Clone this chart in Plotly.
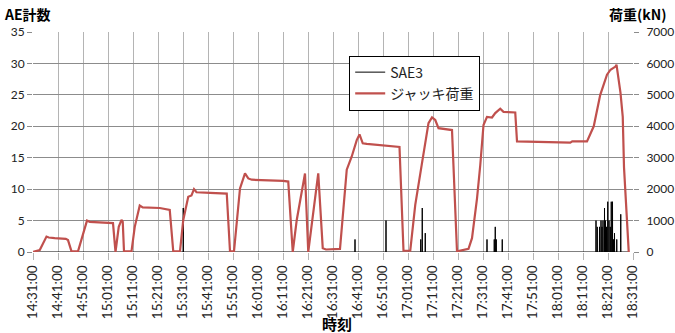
import plotly.graph_objects as go

# Time axis: minutes elapsed since 14:31:00, ticks every 10 minutes
tick_minutes = list(range(0, 241, 10))
tick_labels = [
    "14:31:00", "14:41:00", "14:51:00", "15:01:00", "15:11:00", "15:21:00",
    "15:31:00", "15:41:00", "15:51:00", "16:01:00", "16:11:00", "16:21:00",
    "16:31:00", "16:41:00", "16:51:00", "17:01:00", "17:11:00", "17:21:00",
    "17:31:00", "17:41:00", "17:51:00", "18:01:00", "18:11:00", "18:21:00",
    "18:31:00",
]

# Jack load (kN) against elapsed minutes
load_min = [
    0, 2.7, 5.4, 6.3, 8.7, 13.1, 14.0, 15.4, 18.0, 21.6, 22.7, 32.0, 33.0,
    34.3, 35.4, 35.9, 36.4, 39.4, 40.7, 42.7, 43.9, 50.7, 54.7, 56.1, 58.8,
    60.1, 62.1, 63.4, 64.4, 65.4, 70.8, 77.5, 78.8, 80.4, 82.8, 84.8, 86.1,
    87.5, 100.1, 102.1, 103.9, 105.5, 108.8, 110.1, 114.1, 115.9, 117.2,
    122.8, 125.5, 127.5, 129.5, 130.6, 131.9, 133.5, 146.6, 148.2, 150.9,
    152.9, 155.5, 158.2, 159.6, 160.9, 162.2, 167.6, 169.6, 174.2, 175.6,
    177.6, 178.9, 180.2, 181.6, 183.6, 184.9, 186.9, 188.2, 192.9, 193.6,
    214.3, 214.9, 215.7, 221.6, 224.3, 226.9, 229.6, 231.0, 233.0, 233.4,
    235.0, 235.9, 236.4, 237.2, 238.3,
]
load_kn = [
    0, 60, 490, 460, 440, 420, 380, 20, 20, 1000, 960, 920, 0,
    800, 1020, 960, 20, 20, 800, 1480, 1420, 1400, 1340, 20, 20,
    1020, 1760, 1800, 2000, 1900, 1880, 1860, 20, 20, 2020, 2500, 2340,
    2300, 2260, 2240, 0, 1020, 2500, 0, 2500, 120, 80,
    100, 2620, 3040, 3560, 3740, 3460, 3440, 3340, 40, 40,
    1500, 2780, 4100, 4280, 4200, 3940, 3880, 20, 100, 440,
    1700, 2760, 4040, 4300, 4280, 4420, 4560, 4460, 4440, 3520,
    3500, 3480, 3520, 3520, 4000, 5000, 5640, 5800, 5900, 5960,
    5060, 4300, 2700, 1400, 0,
]

# SAE3 AE hit counts (minutes elapsed, count); zero elsewhere
ae_min = [
    60.1, 128.8, 141.2, 155.1, 155.7, 156.9, 181.6, 184.5, 184.9, 185.3,
    187.7, 225.2, 225.7, 226.6, 227.2, 227.6, 228.0, 228.6, 229.0, 229.4,
    229.9, 230.4, 230.9, 231.3, 231.8, 232.2, 232.6, 233.5, 235.1,
]
ae_count = [
    7, 2, 5, 2, 7, 3, 2, 2, 4, 2,
    2, 5, 4, 4, 5, 4, 5, 7, 5, 4,
    8, 5, 4, 8, 8, 2, 3, 2, 6,
]

# Build the count line: a zero baseline with a narrow spike at each hit
half = 0.05
ae_x, ae_y = [0.0], [0]
for t, n in zip(ae_min, ae_count):
    ae_x += [t - half, t, t + half]
    ae_y += [0, n, 0]
ae_x.append(load_min[-1])
ae_y.append(0)

fig = go.Figure()
fig.add_trace(go.Scatter(
    x=ae_x, y=ae_y, name="SAE3", mode="lines",
    line=dict(color="black", width=1), yaxis="y",
))
fig.add_trace(go.Scatter(
    x=load_min, y=load_kn, name="ジャッキ荷重", mode="lines",
    line=dict(color="#C0504D", width=2.2), yaxis="y2",
))

tick_font = dict(family="Lato, 'Noto Sans', sans-serif", size=12, color="#222")
grid_h = "#8c8c8c"
grid_v = "#b4b4b4"

fig.update_layout(
    width=675, height=333, autosize=False,
    margin=dict(l=33, r=42, t=32, b=81, pad=0),
    paper_bgcolor="white", plot_bgcolor="white",
    font=dict(family="'Noto Sans CJK JP', sans-serif", color="black"),
    showlegend=True,
    legend=dict(
        x=0.527, y=0.893, xanchor="left", yanchor="top",
        bgcolor="white", bordercolor="black", borderwidth=1,
        font=dict(family="'Noto Sans CJK JP', sans-serif", size=14, color="#222"),
        itemwidth=30, tracegroupgap=0, traceorder="normal",
    ),
    xaxis=dict(
        range=[0, 240], tickmode="array", tickvals=tick_minutes,
        ticktext=tick_labels, tickangle=-90, automargin=False,
        showgrid=True, gridcolor=grid_v, gridwidth=1,
        ticks="outside", ticklen=7, tickcolor=grid_v,
        tickfont=dict(family="Lato, 'Noto Sans', sans-serif", size=13.5, color="#222"),
        zeroline=False, showline=False,
    ),
    yaxis=dict(
        range=[0, 35], dtick=5, showgrid=True, gridcolor=grid_h, gridwidth=1,
        ticks="outside", ticklen=5, tickcolor=grid_h, tickfont=tick_font,
        zeroline=False, showline=False, automargin=False,
    ),
    yaxis2=dict(
        range=[0, 7000], dtick=1000, overlaying="y", side="right",
        showgrid=False, ticks="outside", ticklen=5, tickcolor=grid_h,
        tickfont=tick_font, zeroline=False, showline=False,
        ticklabelstandoff=5, automargin=False,
    ),
    annotations=[
        dict(text="<b>AE計数</b>", xref="paper", yref="paper",
             x=-31 / 600, y=1 + 18 / 220, xanchor="left", yanchor="middle",
             showarrow=False, font=dict(size=14, color="black")),
        dict(text="<b>荷重(kN)</b>", xref="paper", yref="paper",
             x=1 + 36 / 600, y=1 + 18 / 220, xanchor="right", yanchor="middle",
             showarrow=False, font=dict(size=14, color="black")),
        dict(text="<b>時刻</b>", xref="paper", yref="paper",
             x=0.507, y=-71 / 220, xanchor="center", yanchor="middle",
             showarrow=False, font=dict(size=15, color="black")),
    ],
)

fig.write_html("out.html")
